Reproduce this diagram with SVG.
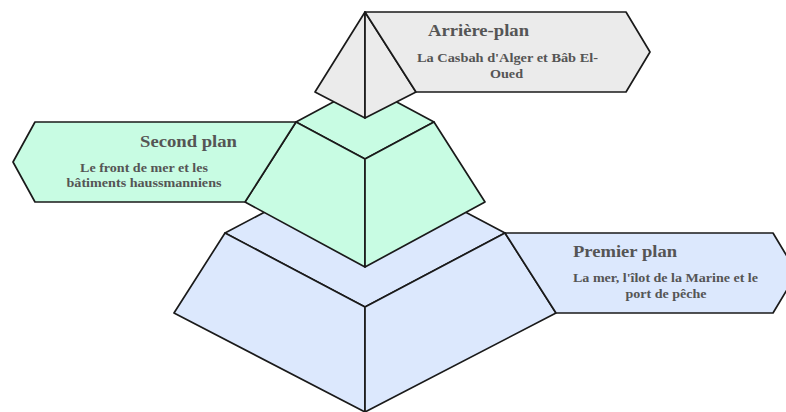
<svg xmlns="http://www.w3.org/2000/svg" width="786" height="412" viewBox="0 0 786 412">
<style>
.s{stroke:#1a1a1a;stroke-width:1.7;stroke-linejoin:round}
.blue{fill:#dce8fd}
.green{fill:#c8fce3}
.grey{fill:#ebebeb}
.t{font-family:"Liberation Serif","Times New Roman",serif;font-weight:bold;fill:#555;text-anchor:middle}
.h{font-size:17px}
.d{font-size:12.5px}
</style>
<rect width="786" height="412" fill="#fff"/>
<g id="premier-plan">
<polygon class="s blue" points="225,233 365,159 505,233 365,307"/>
<polygon class="s blue" points="225,233 365,307 365,412 174,313"/>
<polygon class="s blue" points="505,233 556,313 365,412 365,307"/>
<polygon class="s blue" points="505,233 773,233 797,273 773,313 556,313"/>
<text class="t h" x="625" y="257" textLength="104" lengthAdjust="spacingAndGlyphs">Premier plan</text>
<text class="t d" x="665.5" y="282" textLength="185" lengthAdjust="spacingAndGlyphs">La mer, l'îlot de la Marine et le</text>
<text class="t d" x="666" y="298" textLength="81" lengthAdjust="spacingAndGlyphs">port de pêche</text>
</g>
<g id="second-plan">
<polygon class="s green" points="296,122 365,85 434,122 365,159"/>
<polygon class="s green" points="296,122 365,159 365,267 245,202"/>
<polygon class="s green" points="434,122 485,202 365,267 365,159"/>
<polygon class="s green" points="35,122 296,122 245,202 35,202 13,162"/>
<text class="t h" x="188.5" y="147" textLength="97" lengthAdjust="spacingAndGlyphs">Second plan</text>
<text class="t d" x="144" y="172" textLength="128" lengthAdjust="spacingAndGlyphs">Le front de mer et les</text>
<text class="t d" x="144" y="187" textLength="155" lengthAdjust="spacingAndGlyphs">bâtiments haussmanniens</text>
</g>
<g id="arriere-plan">
<polygon class="s grey" points="365,12 315,92 365,118"/>
<polygon class="s grey" points="365,12 416,92 365,118"/>
<polygon class="s grey" points="365,12 626,12 650,52 626,92 416,92"/>
<text class="t h" x="478.5" y="36" textLength="101" lengthAdjust="spacingAndGlyphs">Arrière-plan</text>
<text class="t d" x="507.5" y="62" textLength="181" lengthAdjust="spacingAndGlyphs">La Casbah d'Alger et Bâb El-</text>
<text class="t d" x="506.5" y="78" textLength="33" lengthAdjust="spacingAndGlyphs">Oued</text>
</g>
<g id="connectors"/>
</svg>
